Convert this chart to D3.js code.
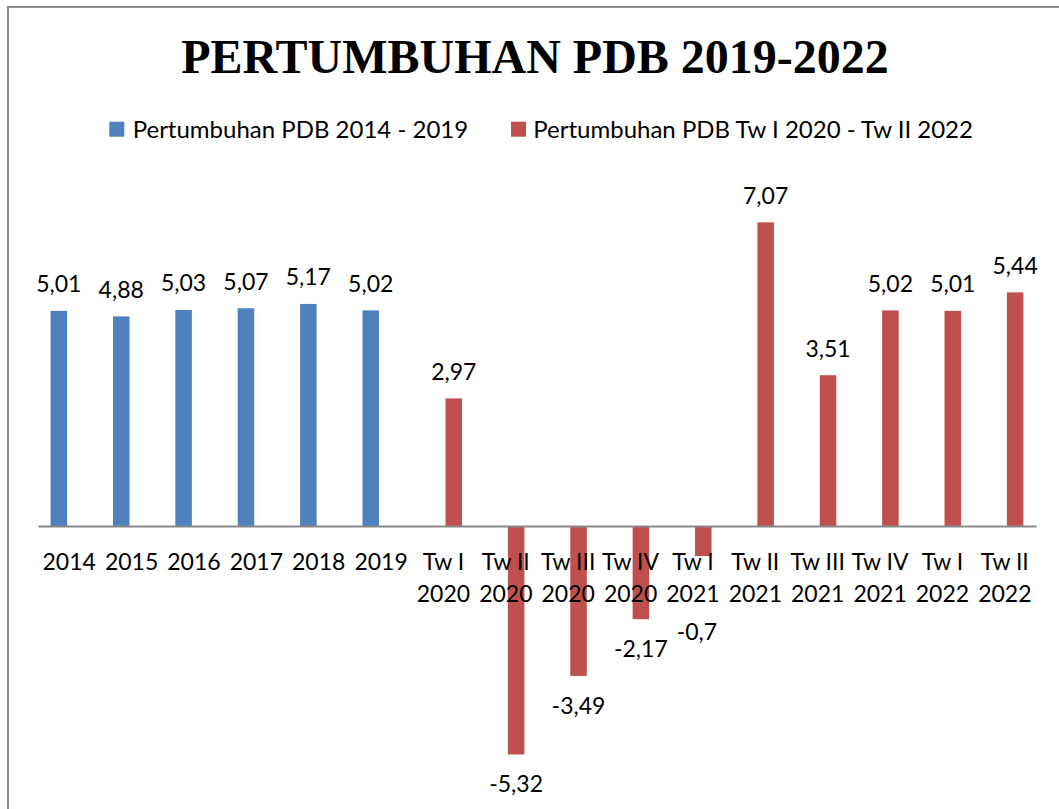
<!DOCTYPE html>
<html>
<head>
<meta charset="utf-8">
<script src="https://cdn.jsdelivr.net/npm/d3@7"></script>
<style>
  html, body { margin: 0; padding: 0; background: #fff; }
  svg { display: block; }
</style>
</head>
<body>
<svg id="chart" width="1059" height="809"></svg>
<script>
// ---- data ----
const title = "PERTUMBUHAN PDB 2019-2022";
const categories = ["2014","2015","2016","2017","2018","2019",
  "Tw I 2020","Tw II 2020","Tw III 2020","Tw IV 2020",
  "Tw I 2021","Tw II 2021","Tw III 2021","Tw IV 2021",
  "Tw I 2022","Tw II 2022"];
const seriesNames = ["Pertumbuhan PDB 2014 - 2019", "Pertumbuhan PDB Tw I 2020 - Tw II 2022"];
const seriesAnnual = [5.01, 4.88, 5.03, 5.07, 5.17, 5.02, null, null, null, null, null, null, null, null, null, null];
const seriesQuarterly = [null, null, null, null, null, null, 2.97, -5.32, -3.49, -2.17, -0.7, 7.07, 3.51, 5.02, 5.01, 5.44];
const seriesColors = ["#4F81BD", "#C0504D"];

// ---- setup ----
const svg = d3.select("#chart");
const W = 1059, H = 809;
const sansFont = "Lato, 'Open Sans', sans-serif";

svg.append("rect").attr("x", 0).attr("y", 0).attr("width", W).attr("height", H).attr("fill", "#fff");
// chart frame (extends past the right/bottom of the picture)
svg.append("rect").attr("x", 8).attr("y", 7).attr("width", 1200).attr("height", 1000)
  .attr("fill", "none").attr("stroke", "#8c8c8c").attr("stroke-width", 2);

// title
svg.append("text").attr("x", 535).attr("y", 73.3).attr("text-anchor", "middle")
  .attr("font-family", "'Liberation Serif', 'Times New Roman', serif")
  .attr("font-weight", "bold").attr("font-size", 48).attr("fill", "#000")
  .text(title);

// legend
const legendPos = [{sx: 109.3, tx: 132.7}, {sx: 511, tx: 533.3}];
seriesNames.forEach((name, i) => {
  svg.append("rect").attr("x", legendPos[i].sx).attr("y", 121.7).attr("width", 15).attr("height", 15)
    .attr("fill", seriesColors[i]);
  svg.append("text").attr("x", legendPos[i].tx).attr("y", 138.3)
    .attr("font-family", sansFont).attr("font-size", 24).attr("fill", "#000")
    .text(name);
});

// scales
const x = d3.scaleBand().domain(categories).range([38, 1036]).padding(0);
const half = x.bandwidth() / 2;
const xs = d3.scaleBand().domain([0, 1]).range([half - 18.6, half + 18.6]).paddingInner(0.2);
const y = d3.scaleLinear().domain([-6, 8]).range([783.7, 182.4]);

const series = [seriesAnnual, seriesQuarterly];
const fmt = v => String(v).replace(".", ",");

// manual label nudges (as in the original chart)
const labelNudge = {"Tw I 2021": {dx: -6.3, y: 640}};

series.forEach((vals, si) => {
  const pts = categories.map((c, i) => ({c, v: vals[i]})).filter(d => d.v !== null);
  svg.append("g").selectAll("rect").data(pts).join("rect")
    .attr("x", d => x(d.c) + xs(si))
    .attr("width", xs.bandwidth())
    .attr("y", d => Math.min(y(d.v), y(0)))
    .attr("height", d => Math.abs(y(d.v) - y(0)))
    .attr("fill", seriesColors[si]);
});

// axis
const axis = svg.append("g").attr("transform", `translate(0,${y(0)})`)
  .call(d3.axisBottom(x).tickSize(0).tickSizeOuter(0).tickFormat(""));
axis.select(".domain").attr("stroke", "#888").attr("stroke-width", 2);

// category labels (drawn over bars)
const catG = svg.append("g").attr("font-family", sansFont).attr("font-size", 23).attr("fill", "#000");
categories.forEach(c => {
  const k = c.lastIndexOf(" ");
  const lines = c.startsWith("Tw") ? [c.slice(0, k), c.slice(k + 1)] : [c];
  const t = catG.append("text").attr("text-anchor", "middle");
  lines.forEach((ln, li) => {
    t.append("tspan").attr("x", x(c) + half).attr("y", 569.5 + li * 32).text(ln);
  });
});

// value labels
series.forEach((vals, si) => {
  const pts = categories.map((c, i) => ({c, v: vals[i]})).filter(d => d.v !== null);
  svg.append("g").selectAll("text").data(pts).join("text")
    .attr("font-family", sansFont).attr("font-size", 23).attr("fill", "#000")
    .attr("text-anchor", "middle")
    .attr("x", d => x(d.c) + xs(si) + xs.bandwidth() / 2 + (labelNudge[d.c] ? labelNudge[d.c].dx : 0))
    .attr("y", d => labelNudge[d.c] ? labelNudge[d.c].y : (d.v >= 0 ? y(d.v) - 18.6 : y(d.v) + 38))
    .text(d => fmt(d.v));
});
</script>
</body>
</html>
